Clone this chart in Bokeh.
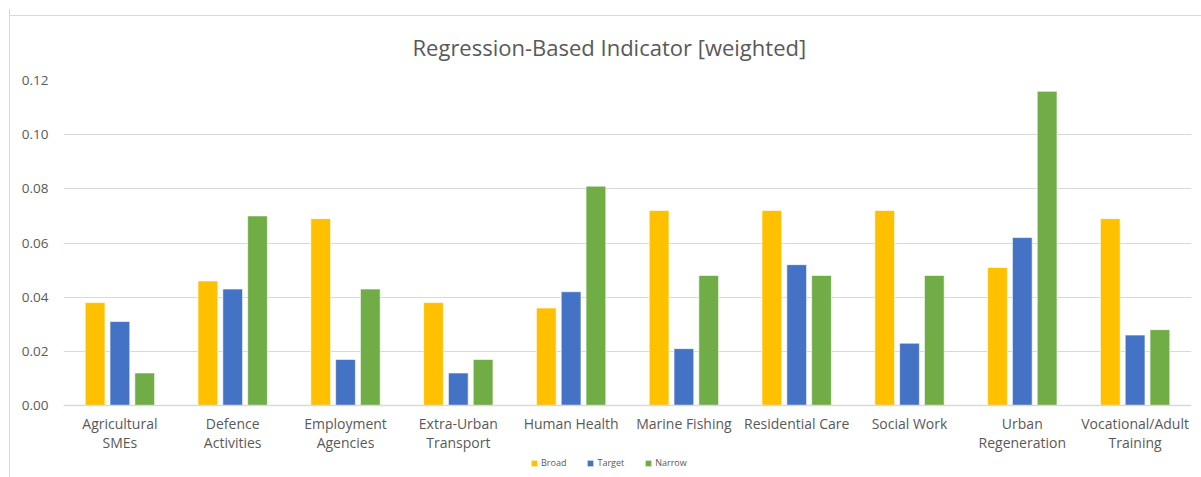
from bokeh.plotting import figure
from bokeh.models import FactorRange, Legend, LegendItem, NumeralTickFormatter, FixedTicker
from bokeh.transform import dodge
from bokeh.embed import file_html
from bokeh.resources import INLINE
from bokeh.models import ColumnDataSource

categories = ["Agricultural\nSMEs", "Defence\nActivities", "Employment\nAgencies",
              "Extra-Urban\nTransport", "Human Health", "Marine Fishing",
              "Residential Care", "Social Work", "Urban\nRegeneration",
              "Vocational/Adult\nTraining"]
broad = [0.038, 0.046, 0.069, 0.038, 0.036, 0.072, 0.072, 0.072, 0.051, 0.069]
target = [0.031, 0.043, 0.017, 0.012, 0.042, 0.021, 0.052, 0.023, 0.062, 0.026]
narrow = [0.012, 0.070, 0.043, 0.017, 0.081, 0.048, 0.048, 0.048, 0.116, 0.028]
series_names = ["Broad", "Target", "Narrow"]
y_ticks = [0.0, 0.02, 0.04, 0.06, 0.08, 0.10, 0.12]
title_text = "Regression-Based Indicator [weighted]"

colors = ["#FFC000", "#4472C4", "#70AD47"]
FONT = "Open Sans"
TXT = "#595959"

src = ColumnDataSource(dict(cat=categories, Broad=broad, Target=target, Narrow=narrow))

# frame extends below zero so the legend (inside the frame) sits under the category labels
p = figure(x_range=FactorRange(*categories, range_padding=0), y_range=(-0.024, 0.12),
           width=1191, height=468, frame_width=1128, frame_height=390,
           min_border_left=53, min_border_right=10, min_border_top=71, min_border_bottom=7,
           output_backend="svg", toolbar_location=None, title=title_text,
           styles={"margin-left": "9px", "margin-top": "9px",
                   "border-left": "1px solid #d9d9d9",
                   "background": "linear-gradient(#d9d9d9, #d9d9d9) no-repeat 0 6px / 100% 1px, white"})
p.border_fill_alpha = 0
p.background_fill_color = "white"

renderers = []
offsets = [-0.22, 0.0, 0.22]
for name, col, off in zip(series_names, colors, offsets):
    r = p.vbar(x=dodge("cat", off, range=p.x_range), top=name, width=0.175, source=src,
               fill_color=col, line_color="white", line_width=0.6)
    renderers.append(r)

p.title.text_font = FONT
p.title.text_font_size = "22px"
p.title.text_font_style = "normal"
p.title.text_color = TXT
p.title.text_line_height = 1.0
p.title.align = "left"
p.title.offset = 349
p.title.standoff = 38

p.yaxis.ticker = FixedTicker(ticks=y_ticks)
p.yaxis.formatter = NumeralTickFormatter(format="0.00")
p.yaxis.axis_line_color = None
p.yaxis.major_tick_line_color = None
p.yaxis.major_tick_out = 0
p.yaxis.minor_tick_line_color = None
p.yaxis.major_label_text_font = FONT
p.yaxis.major_label_text_font_size = "13.5px"
p.yaxis.major_label_text_color = TXT
p.yaxis.major_label_standoff = 15

p.xaxis.fixed_location = 0
p.xaxis.axis_line_color = "#d9d9d9"
p.xaxis.axis_line_width = 1.5
p.xaxis.major_tick_line_color = None
p.xaxis.major_tick_out = 0
p.xaxis.minor_tick_line_color = None
p.xaxis.major_label_text_font = FONT
p.xaxis.major_label_text_font_size = "14px"
p.xaxis.major_label_text_line_height = 1.0
p.xaxis.major_label_text_color = TXT
p.xaxis.major_label_standoff = 8

p.xgrid.grid_line_color = None
p.ygrid.grid_line_color = "#d9d9d9"
p.ygrid.grid_line_width = 1.2
p.outline_line_color = None

legend = Legend(items=[LegendItem(label=n, renderers=[r]) for n, r in zip(series_names, renderers)],
                orientation="horizontal", location=(467, 1),
                glyph_width=8, glyph_height=8, label_text_font=FONT,
                label_text_font_size="9px", label_text_color=TXT,
                label_standoff=3, spacing=20, padding=0, margin=0,
                border_line_color=None, background_fill_alpha=0, label_height=10)
p.add_layout(legend, "center")

open("out.html", "w").write(file_html(p, INLINE))
